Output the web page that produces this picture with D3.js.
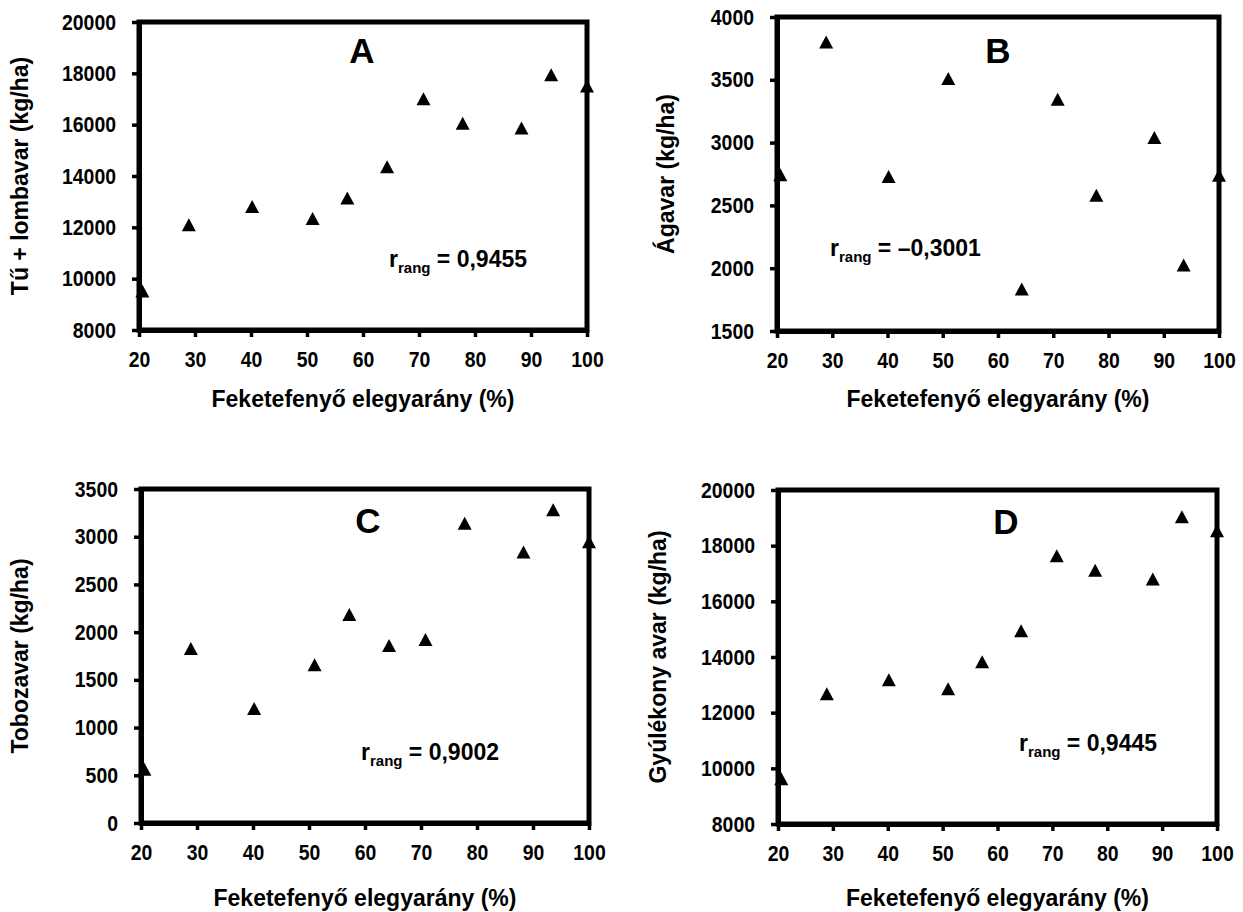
<!DOCTYPE html>
<html>
<head>
<meta charset="utf-8">
<script src="https://cdn.jsdelivr.net/npm/d3@7/dist/d3.min.js"></script>
<style>
  html, body { margin: 0; padding: 0; background: #fff; }
  svg { display: block; }
  text { font-family: "Liberation Sans", Arial, sans-serif; font-weight: bold; fill: #000; }
</style>
</head>
<body>
<svg id="chart" width="1243" height="912"></svg>
<script>
// ---- Data ----
const xValues = [20.6, 28.9, 40.2, 51.0, 57.2, 64.3, 70.8, 77.8, 88.3, 93.6, 100];

const seriesA = [9520, 12100, 12810, 12340, 13140, 14360, 17010, 16060, 15870, 17940, 17510];
const seriesB = [2745, 3800, 2730, 3510, null, 1835, 3345, 2580, 3040, 2025, 2740];
const seriesC = [563, 1829, 1199, 1657, 2185, 1860, 1923, 3140, 2839, 3283, 2948];
const seriesD = [9630, 12680, 13180, 12860, 13830, 14940, 17640, 17120, 16800, 19040, 18540];

const xTicks = [20, 30, 40, 50, 60, 70, 80, 90, 100];
const yTicksA = [8000, 10000, 12000, 14000, 16000, 18000, 20000];
const yTicksB = [1500, 2000, 2500, 3000, 3500, 4000];
const yTicksC = [0, 500, 1000, 1500, 2000, 2500, 3000, 3500];
const yTicksD = [8000, 10000, 12000, 14000, 16000, 18000, 20000];

const panelLetters = ["A", "B", "C", "D"];
const yTitles = ["Tű + lombavar (kg/ha)", "Ágavar (kg/ha)", "Tobozavar (kg/ha)", "Gyúlékony avar (kg/ha)"];
const xTitle = "Feketefenyő elegyarány (%)";
const rValues = ["0,9455", "–0,3001", "0,9002", "0,9445"];

// ---- Layout ----
const panels = [
  { series: seriesA, yTicks: yTicksA, left: 139, right: 587, top: 22, bottom: 330,
    letterX: 362, letterY: 63, rX: 389, rY: 267, yTitleX: 28, xTitleY: 407 },
  { series: seriesB, yTicks: yTicksB, left: 777, right: 1219, top: 17, bottom: 331,
    letterX: 998, letterY: 63, rX: 830, rY: 256, yTitleX: 674, xTitleY: 407 },
  { series: seriesC, yTicks: yTicksC, left: 141, right: 589, top: 489, bottom: 823,
    letterX: 368, letterY: 533, rX: 361, rY: 760, yTitleX: 28, xTitleY: 906 },
  { series: seriesD, yTicks: yTicksD, left: 778, right: 1217, top: 490, bottom: 824,
    letterX: 1006, letterY: 534, rX: 1019, rY: 751, yTitleX: 666, xTitleY: 906 }
];

const svg = d3.select("#chart");
const TICK_FS = 22;
const DIGIT_W = 10.8;
const TITLE_FS = 23;
const ANN_FS = 23;
const triangle = "M0,-6.5L7,6.5L-7,6.5Z";

panels.forEach((p, i) => {
  const x = d3.scaleLinear().domain([20, 100]).range([p.left, p.right]);
  const y = d3.scaleLinear().domain(d3.extent(p.yTicks)).range([p.bottom, p.top]);
  const g = svg.append("g");

  // frame
  g.append("rect")
    .attr("x", p.left).attr("y", p.top)
    .attr("width", p.right - p.left).attr("height", p.bottom - p.top)
    .attr("fill", "none").attr("stroke", "#000").attr("stroke-width", 5);

  // axes
  const xAxis = d3.axisBottom(x).tickValues(xTicks).tickSize(7).tickSizeOuter(0).tickPadding(14)
    .tickFormat(d3.format("d"));
  const yAxis = d3.axisLeft(y).tickValues(p.yTicks).tickSize(7).tickSizeOuter(0).tickPadding(16)
    .tickFormat(d3.format("d"));

  const gx = g.append("g").attr("transform", `translate(0,${p.bottom})`).call(xAxis);
  const gy = g.append("g").attr("transform", `translate(${p.left},0)`).call(yAxis);
  [gx, gy].forEach(ax => {
    ax.select(".domain").attr("stroke", "#000").attr("stroke-width", 5);
    ax.selectAll(".tick line").attr("stroke", "#000").attr("stroke-width", 3.5);
    ax.selectAll(".tick text").attr("font-size", TICK_FS).attr("font-family", "Liberation Sans, Arial, sans-serif")
      .attr("font-weight", "bold").attr("fill", "#000")
      .attr("textLength", d => String(d).length * DIGIT_W)
      .attr("lengthAdjust", "spacingAndGlyphs");
  });

  // points
  const pts = xValues.map((xv, k) => ({ x: xv, y: p.series[k] })).filter(d => d.y !== null);
  g.selectAll("path.pt").data(pts).enter().append("path")
    .attr("class", "pt")
    .attr("d", triangle)
    .attr("transform", d => `translate(${x(d.x)},${y(d.y)})`)
    .attr("fill", "#000");

  // panel letter
  g.append("text").attr("x", p.letterX).attr("y", p.letterY)
    .attr("text-anchor", "middle").attr("font-size", 35).text(panelLetters[i]);

  // r_rang annotation
  const t = g.append("text").attr("x", p.rX).attr("y", p.rY).attr("font-size", ANN_FS);
  t.append("tspan").text("r");
  t.append("tspan").attr("font-size", 15).attr("dy", 6).text("rang");
  t.append("tspan").attr("dy", -6).text(" = " + rValues[i]);

  // axis titles
  g.append("text").attr("x", (p.left + p.right) / 2).attr("y", p.xTitleY)
    .attr("text-anchor", "middle").attr("font-size", TITLE_FS).text(xTitle);
  g.append("text")
    .attr("transform", `translate(${p.yTitleX},${(p.top + p.bottom) / 2}) rotate(-90)`)
    .attr("text-anchor", "middle").attr("font-size", TITLE_FS).text(yTitles[i]);
});
</script>
</body>
</html>
